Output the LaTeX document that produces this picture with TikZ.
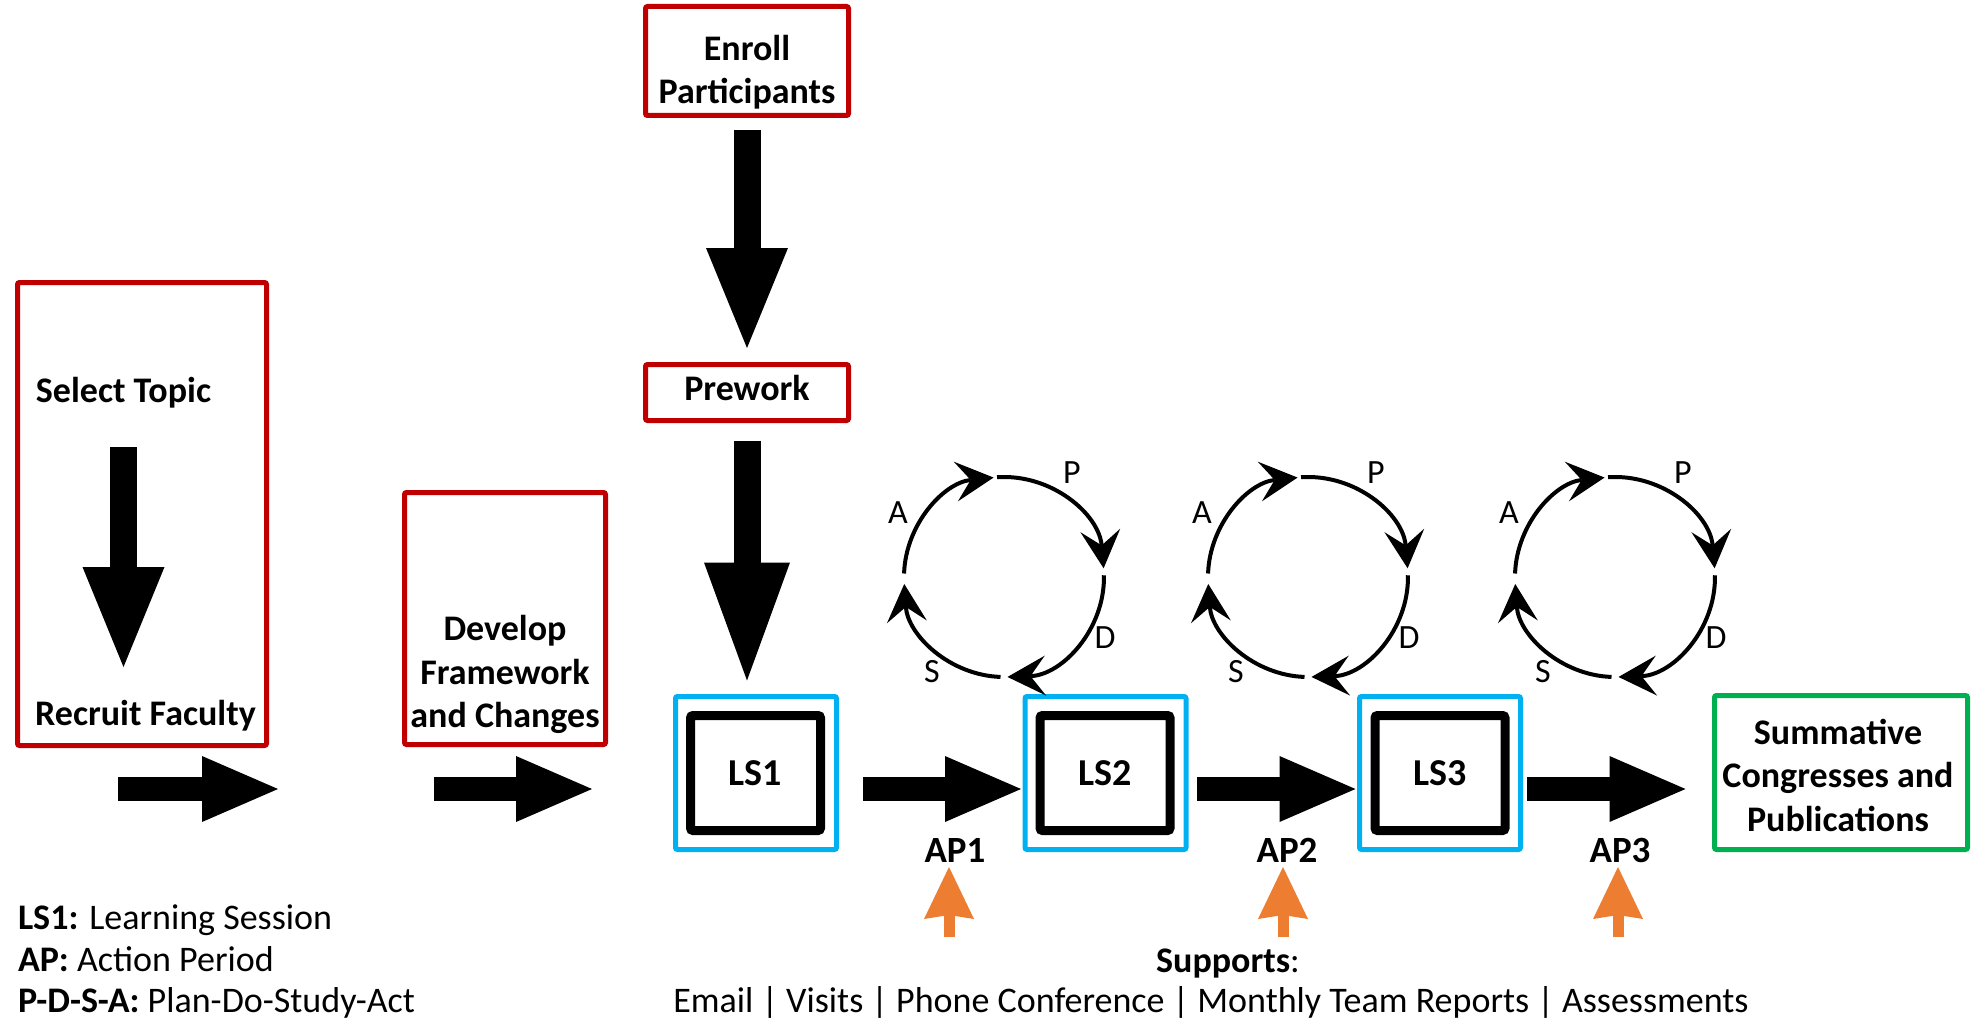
\documentclass[tikz,border=0pt]{standalone}
\usepackage{fontspec}
\setmainfont{Carlito}
\usetikzlibrary{arrows.meta,calc}
\definecolor{boxred}{HTML}{C00000}
\definecolor{boxblue}{HTML}{00B0F0}
\definecolor{boxgreen}{HTML}{00B050}
\definecolor{suporange}{HTML}{ED7D31}
\begin{document}
\begin{tikzpicture}[x=1pt,y=-1pt,
  every node/.style={inner sep=0pt,outer sep=0pt},
  lbl/.style={font=\fontsize{36}{43.5}\selectfont\bfseries,align=center},
  redbox/.style={draw=boxred,line width=5pt,rounded corners=2pt},
  bluebox/.style={draw=boxblue,line width=5pt,rounded corners=2pt,minimum width=161pt,minimum height=153pt},
  lsbox/.style={draw=black,line width=9pt,rounded corners=2.5pt,minimum width=130pt,minimum height=115pt,font=\fontsize{38}{44}\selectfont\bfseries},
  harrow/.style={line width=24pt,-{Triangle[length=76pt,width=66pt,line width=0pt]}},
  varrow/.style={line width=27pt,-{Triangle[length=100pt,width=82pt,line width=0pt]}},
  varrowbig/.style={line width=27pt,-{Triangle[length=118pt,width=86pt,line width=0pt]}},
  orarrow/.style={color=suporange,line width=11pt,-{Stealth[length=52pt,width=50pt,inset=4pt,line width=0pt]}},
  cycarc/.style={line width=4pt,-{Stealth[length=38pt,width=40pt,inset=15pt,line width=0pt]}},
  pdsa/.style={font=\fontsize{34}{40}\selectfont},
  aplbl/.style={font=\fontsize{37}{44}\selectfont\bfseries},
  plaintext/.style={font=\fontsize{36}{43}\selectfont},
]
\useasboundingbox (0,0) rectangle (1982,1022);
\fill[white] (0,0) rectangle (1982,1022);

% ---- Select Topic / Recruit Faculty
\node[redbox,minimum width=249pt,minimum height=463pt] (selbox) at (142,514) {};
\node[lbl,anchor=base] (seltxt) at (123.5,402) {Select Topic};
\node[lbl,anchor=base] (rectxt) at (145.5,725) {Recruit Faculty};
\draw[varrow] ($(seltxt.base)+(0,45)$) -- ($(seltxt.base |- rectxt.base)+(0,-58)$);

% ---- Develop Framework
\node[redbox,minimum width=201pt,minimum height=252pt] (devbox) at (505,618.5) {};
\node[lbl] (devtxt) at (505,674.5) {Develop\\Framework\\and Changes};

% ---- Enroll / Prework
\node[redbox,minimum width=203pt,minimum height=109pt] (enroll) at (747,61) {};
\node[lbl] (enrtxt) at (747,72) {Enroll\\Participants};
\node[redbox,minimum width=203pt,minimum height=56pt] (prework) at (747,392.5) {};
\node[lbl,anchor=base] (pretxt) at (747,400) {Prework};
\draw[varrow,shorten <=14.5pt,shorten >=16.5pt] (enroll.south) -- (prework.north);

% ---- Learning sessions
\node[bluebox] (ls1) at (756,773) {};
\node[lsbox] (ls1in) at (755.5,773) {LS1};
\node[bluebox] (ls2) at (1105.5,773) {};
\node[lsbox] (ls2in) at (1105,773) {LS2};
\node[bluebox] (ls3) at (1440,773) {};
\node[lsbox] (ls3in) at (1440,773) {LS3};
\draw[varrowbig,shorten <=20pt,shorten >=16pt] (prework.south) -- (prework.south |- ls1.north);

% ---- Summative
\node[draw=boxgreen,line width=5pt,rounded corners=2pt,minimum width=253pt,minimum height=154pt] (summ) at (1841,772.5) {};
\node[lbl] (summtxt) at (1838,775) {Summative\\Congresses and\\Publications};

% ---- horizontal block arrows
\coordinate (h1s) at (118,789);
\coordinate (h1e) at (278,789);
\draw[harrow] (h1s) -- (h1e);
\coordinate (h2s) at (434,789);
\coordinate (h2e) at (592,789);
\draw[harrow] (h2s) -- (h2e);
\draw[harrow] ($(ls1.east)+(26,16)$) -- ($(ls2.west)+(-4,16)$);
\draw[harrow] ($(ls2.east)+(11,16)$) -- ($(ls3.west)+(-4,16)$);
\draw[harrow] ($(ls3.east)+(6,16)$) -- ($(summ.west)+(-29,16.5)$);

% ---- action periods and supports
\node[aplbl,anchor=base] (ap1) at (955,862) {AP1};
\node[aplbl,anchor=base] (ap2) at (1287,862) {AP2};
\node[aplbl,anchor=base] (ap3) at (1620,862) {AP3};
\draw[orarrow] ($(ap1.base)+(-6,75)$) -- ($(ap1.base)+(-6,5)$);
\draw[orarrow] ($(ap2.base)+(-4,75)$) -- ($(ap2.base)+(-4,5)$);
\draw[orarrow] ($(ap3.base)+(-2,75)$) -- ($(ap3.base)+(-2,5)$);
\node[plaintext,anchor=base] (sup) at (1228,972) {\textbf{Supports}:};
\node[plaintext,anchor=base] (suplist) at (1211,1012) {Email | Visits | Phone Conference | Monthly Team Reports | Assessments};

% ---- legend
\node[plaintext,anchor=base west] (leg1) at (18,929) {\textbf{LS1:} Learning Session};
\node[plaintext,anchor=base west] (leg2) at (18,971) {\textbf{AP:} Action Period};
\node[plaintext,anchor=base west] (leg3) at (18,1012) {\textbf{P-D-S-A:} Plan-Do-Study-Act};

% ---- PDSA cycles
\foreach \cx/\i in {1004/1,1308/2,1615/3}{
  \begin{scope}[shift={(\cx,577)},y=1pt]
    \draw[cycarc] (178:100) arc[start angle=178,end angle=96,radius=100];
    \draw[cycarc] (94:100) arc[start angle=94,end angle=5,radius=100];
    \draw[cycarc] (1:100) arc[start angle=1,end angle=-88,radius=100];
    \draw[cycarc] (268:100) arc[start angle=268,end angle=184,radius=100];
    \node[pdsa] (A\i) at (-106,64) {A};
    \node[pdsa] (P\i) at (68,104) {P};
    \node[pdsa] (D\i) at (101,-61) {D};
    \node[pdsa] (S\i) at (-72,-95) {S};
  \end{scope}
}
\end{tikzpicture}
\end{document}
